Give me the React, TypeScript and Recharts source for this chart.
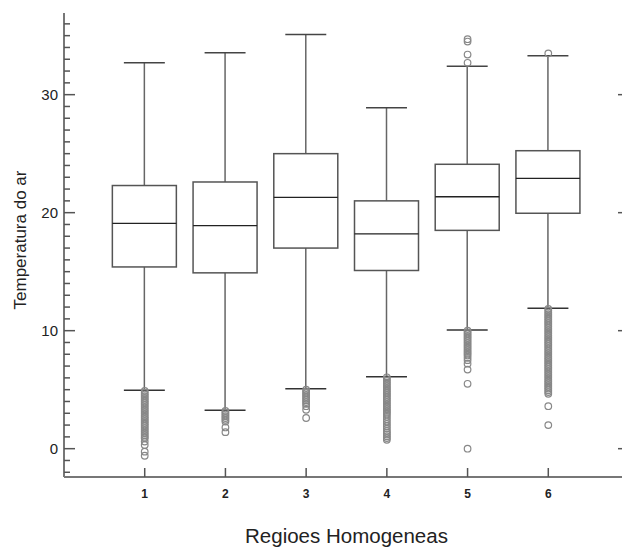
import { ComposedChart, Bar, Scatter, XAxis, YAxis } from "recharts";

const REGIONS = [1, 2, 3, 4, 5, 6];
const WHISKER_LOW = [4.95, 3.25, 5.08, 6.1, 10.06, 11.9];
const Q1 = [15.4, 14.9, 17.0, 15.1, 18.5, 19.95];
const MEDIAN = [19.1, 18.9, 21.3, 18.2, 21.35, 22.9];
const Q3 = [22.3, 22.6, 25.0, 21.0, 24.1, 25.25];
const WHISKER_HIGH = [32.7, 33.55, 35.1, 28.9, 32.4, 33.3];

const OUTLIERS_1 = [4.9, 4.75, 4.6, 4.45, 4.3, 4.15, 4.0, 3.85, 3.7, 3.55, 3.4, 3.25, 3.1, 2.95, 2.8, 2.65, 2.5, 2.35, 2.2, 2.05, 1.9, 1.75, 1.6, 1.45, 1.3, 1.15, 1.0, 0.88, 0.6, 0.31, -0.25, -0.6];
const OUTLIERS_2 = [3.2, 3.05, 2.9, 2.75, 2.6, 2.45, 2.3, 1.8, 1.4];
const OUTLIERS_3 = [5.0, 4.85, 4.7, 4.55, 4.4, 4.25, 4.1, 3.95, 3.8, 3.6, 3.3, 2.6];
const OUTLIERS_4 = [6.05, 5.9, 5.75, 5.6, 5.45, 5.3, 5.15, 5.0, 4.85, 4.7, 4.55, 4.4, 4.25, 4.1, 3.95, 3.8, 3.65, 3.5, 3.35, 3.2, 3.05, 2.9, 2.7, 2.5, 2.3, 2.1, 1.9, 1.7, 1.5, 1.35, 1.2, 1.05, 0.9, 0.75];
const OUTLIERS_5 = [34.7, 34.5, 33.4, 32.7, 10.0, 9.85, 9.7, 9.55, 9.4, 9.25, 9.1, 8.95, 8.8, 8.65, 8.5, 8.35, 8.2, 8.05, 7.9, 7.7, 7.5, 7.2, 6.7, 5.5, 0.0];
const OUTLIERS_6 = [33.5, 11.85, 11.7, 11.55, 11.4, 11.25, 11.1, 10.95, 10.8, 10.65, 10.5, 10.35, 10.2, 10.05, 9.9, 9.75, 9.6, 9.45, 9.3, 9.15, 9.0, 8.85, 8.7, 8.55, 8.4, 8.25, 8.1, 7.95, 7.8, 7.65, 7.5, 7.35, 7.2, 7.05, 6.9, 6.75, 6.6, 6.45, 6.3, 6.15, 6.0, 5.85, 5.7, 5.55, 5.4, 5.25, 5.1, 4.95, 4.8, 4.65, 3.6, 2.0];

const Y_TICKS = [-2, -1, 0, 1, 2, 3, 4, 5, 6, 7, 8, 9, 10, 11, 12, 13, 14, 15, 16, 17, 18, 19, 20, 21, 22, 23, 24, 25, 26, 27, 28, 29, 30, 31, 32, 33, 34, 35, 36];
const Y_MAJOR = [0, 10, 20, 30];

const FONT = "'Liberation Sans', Arial, Helvetica, sans-serif";
const AXIS = "#777";
const TICK = "#555";

const boxData = REGIONS.map((region, i) => ({
  region,
  range: [WHISKER_LOW[i], WHISKER_HIGH[i]],
  low: WHISKER_LOW[i],
  q1: Q1[i],
  median: MEDIAN[i],
  q3: Q3[i],
  high: WHISKER_HIGH[i],
}));

const outlierData = [OUTLIERS_1, OUTLIERS_2, OUTLIERS_3, OUTLIERS_4, OUTLIERS_5, OUTLIERS_6].flatMap((vals, i) =>
  vals.map((value) => ({ region: REGIONS[i], value }))
);

// the bar spans low..high whisker; inner levels come from the same linear scale
function BoxShape(props: any) {
  const { x, y, width, height, payload } = props;
  const top = Math.min(y, y + height);
  const bottom = Math.max(y, y + height);
  const { low, high, q1, median, q3 } = payload;
  const py = (v: number) => top + ((high - v) / (high - low)) * (bottom - top);
  const cx = x + width / 2;
  const cap = width * 0.32;
  return (
    <g>
      <line x1={cx} x2={cx} y1={py(high)} y2={py(q3)} stroke="#666" strokeWidth={1.5} />
      <line x1={cx} x2={cx} y1={py(q1)} y2={py(low)} stroke="#666" strokeWidth={1.5} />
      <line x1={cx - cap} x2={cx + cap} y1={py(high)} y2={py(high)} stroke="#444" strokeWidth={1.5} />
      <line x1={cx - cap} x2={cx + cap} y1={py(low)} y2={py(low)} stroke="#333" strokeWidth={1.5} />
      <rect x={x} y={py(q3)} width={width} height={py(q1) - py(q3)} fill="#fff" stroke="#555" strokeWidth={1.5} />
      <line x1={x} x2={x + width} y1={py(median)} y2={py(median)} stroke="#222" strokeWidth={1.3} />
    </g>
  );
}

function Outlier(props: any) {
  return <circle cx={props.cx} cy={props.cy} r={3.3} fill="none" stroke="#888" strokeWidth={1.2} />;
}

function LeftTick(props: any) {
  const { x, y, payload } = props;
  const major = Y_MAJOR.includes(payload.value);
  return (
    <g>
      <line x1={x} x2={x + (major ? 11 : 6)} y1={y} y2={y} stroke={TICK} strokeWidth={1.5} />
      {major && (
        <text x={x - 6} y={y} dy={5.5} textAnchor="end" fontSize={15} fill="#222" fontFamily={FONT}>
          {payload.value}
        </text>
      )}
    </g>
  );
}

function RightTick(props: any) {
  const { x, y } = props;
  return <line x1={x} x2={x - 11} y1={y} y2={y} stroke={TICK} strokeWidth={1.5} />;
}

function BottomTick(props: any) {
  const { x, y, payload } = props;
  return (
    <g>
      <line x1={x} x2={x} y1={y} y2={y - 9} stroke={TICK} strokeWidth={1.5} />
      <text x={x} y={y + 21} textAnchor="middle" fontSize={12} fontWeight="bold" fill="#222" fontFamily={FONT}>
        {payload.value}
      </text>
    </g>
  );
}

function TopTick(props: any) {
  const { x, y } = props;
  return <line x1={x} x2={x} y1={y} y2={y + 9} stroke={TICK} strokeWidth={1.5} />;
}

export default function App() {
  return (
    <div style={{ position: "fixed", left: 0, top: 0, width: 622, height: 547, overflow: "hidden", background: "#fff" }}>
      <ComposedChart width={640} height={547} data={boxData} margin={{ top: 13, right: 0, bottom: 0, left: 0 }}>
        <XAxis
          xAxisId="bottom"
          dataKey="region"
          type="number"
          domain={[0, 7]}
          ticks={REGIONS}
          allowDataOverflow
          height={70}
          tickSize={0}
          tickMargin={0}
          tick={<BottomTick />}
          axisLine={{ stroke: AXIS, strokeWidth: 2 }}
          label={{
            content: (p: any) => (
              <text
                x={p.viewBox.x + p.viewBox.width / 2}
                y={p.viewBox.y + 66}
                textAnchor="middle"
                fontSize={20.5}
                fill="#222"
                fontFamily={FONT}
              >
                Regioes Homogeneas
              </text>
            ),
          }}
        />
        <XAxis
          xAxisId="top"
          orientation="top"
          dataKey="region"
          type="number"
          domain={[0, 7]}
          ticks={REGIONS}
          allowDataOverflow
          height={0}
          tickSize={0}
          tickMargin={0}
          tick={<TopTick />}
          axisLine={{ stroke: AXIS, strokeWidth: 2 }}
        />
        <YAxis
          yAxisId="left"
          type="number"
          domain={[-2.4, 36.92]}
          ticks={Y_TICKS}
          interval={0}
          allowDataOverflow
          width={64}
          tickSize={0}
          tickMargin={0}
          tick={<LeftTick />}
          axisLine={{ stroke: AXIS, strokeWidth: 2 }}
          label={{
            content: (p: any) => {
              const cx = 20;
              const cy = p.viewBox.y + p.viewBox.height / 2 - 5;
              return (
                <text
                  x={cx}
                  y={cy}
                  transform={`rotate(-90 ${cx} ${cy})`}
                  textAnchor="middle"
                  dominantBaseline="central"
                  fontSize={17}
                  fill="#222"
                  fontFamily={FONT}
                >
                  Temperatura do ar
                </text>
              );
            },
          }}
        />
        <YAxis
          yAxisId="right"
          orientation="right"
          type="number"
          domain={[-2.4, 36.92]}
          ticks={Y_MAJOR}
          interval={0}
          allowDataOverflow
          width={11}
          tickSize={0}
          tickMargin={0}
          tick={<RightTick />}
          axisLine={{ stroke: AXIS, strokeWidth: 2 }}
        />
        <Bar
          xAxisId="bottom"
          yAxisId="left"
          dataKey="range"
          barSize={64}
          shape={<BoxShape />}
          isAnimationActive={false}
        />
        <Scatter
          xAxisId="bottom"
          yAxisId="left"
          data={outlierData}
          dataKey="value"
          shape={<Outlier />}
          isAnimationActive={false}
        />
      </ComposedChart>
    </div>
  );
}
